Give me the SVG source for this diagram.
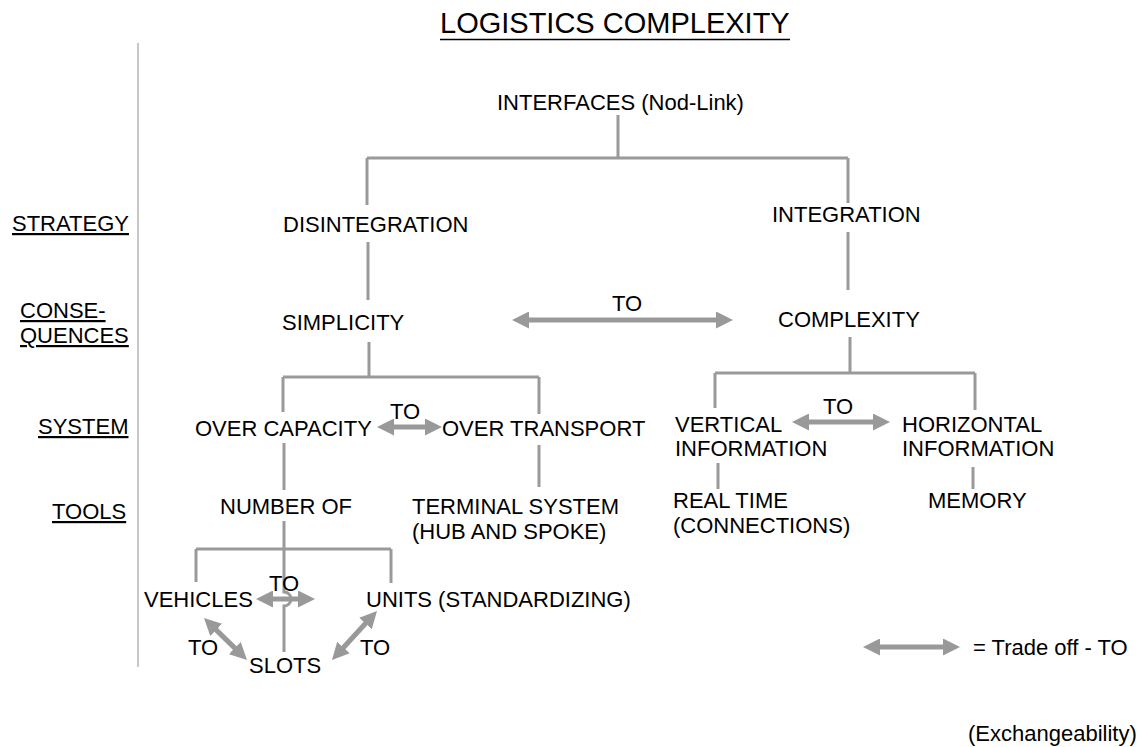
<svg xmlns="http://www.w3.org/2000/svg" width="1143" height="747" viewBox="0 0 1143 747">
<style>
text{font-family:"Liberation Sans",Arial,sans-serif;font-size:22px;fill:#000}
.lbl{text-decoration:underline}
.c{stroke:#9a9a9a;stroke-width:3;fill:none}
.a{stroke:#999;stroke-width:5;fill:none;marker-start:url(#ah);marker-end:url(#ah)}
.mid{text-anchor:middle}
</style>
<defs>
<marker id="ah" viewBox="0 0 17 17" refX="5" refY="8.5" markerWidth="17" markerHeight="17" markerUnits="userSpaceOnUse" orient="auto-start-reverse">
<path d="M0,0 L17,8.5 L0,17 Z" fill="#999"/>
</marker>
</defs>
<rect width="1143" height="747" fill="#fff"/>
<g id="title">
<text x="440" y="33" style="font-size:29px">LOGISTICS COMPLEXITY</text>
<line x1="440" y1="39.5" x2="790" y2="39.5" stroke="#000" stroke-width="1.5"/>
</g>
<g id="levels">
<line x1="138" y1="43" x2="138" y2="667" stroke="#c8c8c8" stroke-width="2"/>
<text class="lbl" x="12" y="231">STRATEGY</text>
<text class="lbl" x="20" y="318">CONSE-</text>
<text class="lbl" x="20" y="343">QUENCES</text>
<text class="lbl" x="38" y="434">SYSTEM</text>
<text class="lbl" x="52" y="519">TOOLS</text>
</g>
<g id="connectors">
<path class="c" d="M618,115 V158 M367,158 H848 M367,158 V205 M848,158 V203"/>
<path class="c" d="M368,242 V300 M848,232 V290"/>
<path class="c" d="M369,342 V377 M283,377 H539 M283,377 V412 M539,377 V414"/>
<path class="c" d="M850,337 V373 M715,373 H975 M715,373 V408 M975,373 V410"/>
<path class="c" d="M284,443 V490 M539,445 V487 M718,463 V489 M973,467 V489"/>
<path class="c" d="M284,521 V592 A7,7 0 0 1 284,606 V652 M196,549 H391 M196,549 V582 M391,549 V583"/>
<line class="a" x1="524" y1="320" x2="721" y2="320"/>
<line class="a" x1="389" y1="427" x2="430" y2="427"/>
<line class="a" x1="804" y1="422" x2="878" y2="422"/>
<line class="a" x1="268" y1="599" x2="303" y2="599"/>
<line class="a" x1="212.6" y1="626.4" x2="238.4" y2="651.6"/>
<line class="a" x1="368.9" y1="619.8" x2="340.1" y2="651.2"/>
<line class="a" x1="875" y1="647" x2="948" y2="647"/>
</g>
<g id="n-interfaces"><text x="497" y="110">INTERFACES (Nod-Link)</text></g>
<g id="n-disintegration"><text x="283" y="232">DISINTEGRATION</text></g>
<g id="n-integration"><text x="772" y="222">INTEGRATION</text></g>
<g id="n-simplicity"><text x="282" y="330">SIMPLICITY</text></g>
<g id="n-complexity"><text x="778" y="327">COMPLEXITY</text></g>
<g id="t-to1"><text x="627" y="311" class="mid">TO</text></g>
<g id="n-overcapacity"><text x="195" y="436">OVER CAPACITY</text></g>
<g id="t-to2"><text x="405" y="419" class="mid">TO</text></g>
<g id="n-overtransport"><text x="442" y="436">OVER TRANSPORT</text></g>
<g id="n-vertical"><text x="675" y="432">VERTICAL</text><text x="675" y="456">INFORMATION</text></g>
<g id="t-to3"><text x="838" y="414" class="mid">TO</text></g>
<g id="n-horizontal"><text x="902" y="432">HORIZONTAL</text><text x="902" y="456">INFORMATION</text></g>
<g id="n-numberof"><text x="220" y="514">NUMBER OF</text></g>
<g id="n-terminal"><text x="412" y="514">TERMINAL SYSTEM</text><text x="412" y="539">(HUB AND SPOKE)</text></g>
<g id="n-realtime"><text x="673" y="508">REAL TIME</text><text x="673" y="533">(CONNECTIONS)</text></g>
<g id="n-memory"><text x="928" y="508">MEMORY</text></g>
<g id="n-vehicles"><text x="144" y="607">VEHICLES</text></g>
<g id="t-to4"><text x="284" y="591" class="mid">TO</text></g>
<g id="n-units"><text x="366" y="607">UNITS (STANDARDIZING)</text></g>
<g id="t-to5"><text x="188" y="655">TO</text></g>
<g id="t-to6"><text x="360" y="655">TO</text></g>
<g id="n-slots"><text x="249" y="673">SLOTS</text></g>
<g id="legend">
<text x="973" y="655">= Trade off - TO</text>
<text x="968" y="741">(Exchangeability)</text>
</g>
</svg>
